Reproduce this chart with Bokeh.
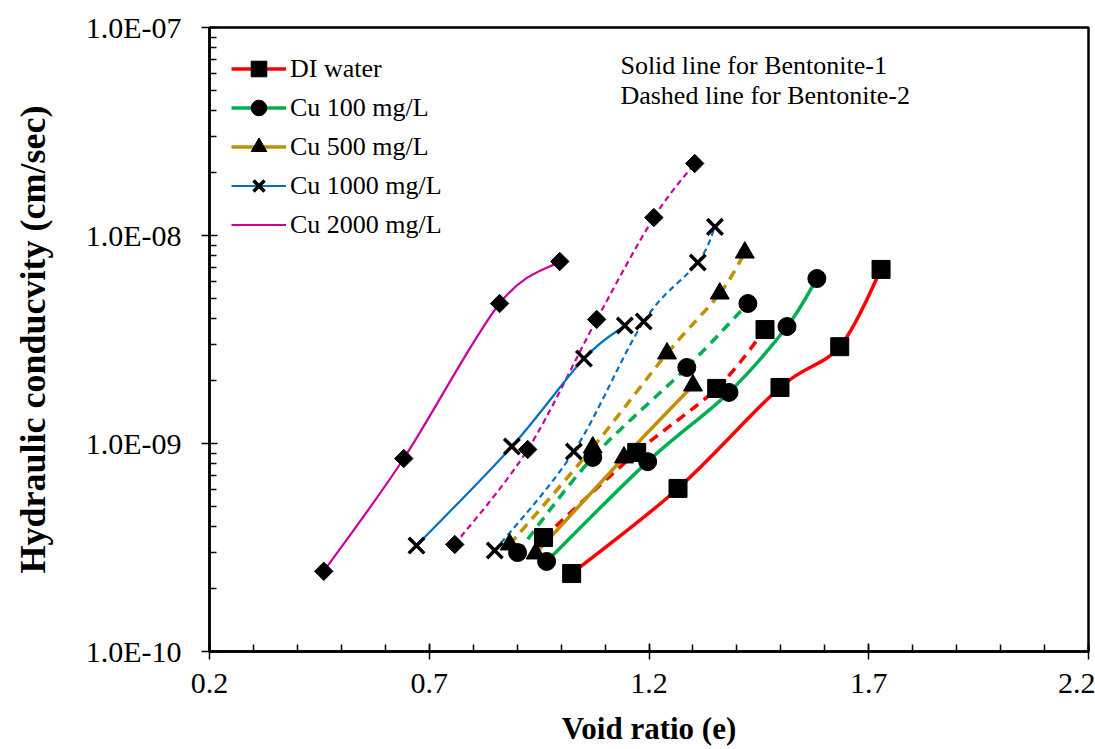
import numpy as np
from bokeh.plotting import figure
from bokeh.models import (ColumnDataSource, FixedTicker, CustomJSTickFormatter, Legend,
                          LegendItem, Label, Range1d, CDSView, IndexFilter)
from bokeh.embed import file_html
from bokeh.resources import INLINE

# ---------------- data (void ratio e, hydraulic conductivity k in cm/sec) ----------------
series_names = ["DI water", "Cu 100 mg/L", "Cu 500 mg/L", "Cu 1000 mg/L", "Cu 2000 mg/L"]

# Bentonite-1 (solid lines)
di_b1_e = [1.024, 1.266, 1.498, 1.634, 1.728]
di_b1_k = [2.37e-10, 6.08e-10, 1.86e-9, 2.92e-9, 6.87e-9]
cu100_b1_e = [0.967, 1.197, 1.382, 1.514, 1.582]
cu100_b1_k = [2.71e-10, 8.18e-10, 1.76e-9, 3.65e-9, 6.21e-9]
cu500_b1_e = [0.942, 1.143, 1.300]
cu500_b1_k = [2.96e-10, 8.57e-10, 1.90e-9]
cu1000_b1_e = [0.671, 0.888, 1.052, 1.145]
cu1000_b1_k = [3.23e-10, 9.68e-10, 2.56e-9, 3.69e-9]
cu2000_b1_e = [0.460, 0.642, 0.860, 0.997]
cu2000_b1_k = [2.43e-10, 8.47e-10, 4.71e-9, 7.50e-9]

# Bentonite-2 (dashed lines)
di_b2_e = [0.960, 1.172, 1.354, 1.464]
di_b2_k = [3.53e-10, 9.06e-10, 1.84e-9, 3.53e-9]
cu100_b2_e = [0.901, 1.072, 1.286, 1.425]
cu100_b2_k = [2.99e-10, 8.57e-10, 2.32e-9, 4.71e-9]
cu500_b2_e = [0.883, 1.072, 1.241, 1.361, 1.418]
cu500_b2_k = [3.27e-10, 9.57e-10, 2.71e-9, 5.26e-9, 8.28e-9]
cu1000_b2_e = [0.849, 1.029, 1.188, 1.311, 1.350]
cu1000_b2_k = [3.06e-10, 9.16e-10, 3.86e-9, 7.41e-9, 1.10e-8]
cu2000_b2_e = [0.758, 0.924, 1.081, 1.211, 1.304]
cu2000_b2_k = [3.27e-10, 9.36e-10, 3.95e-9, 1.22e-8, 2.22e-8]

x_major_ticks = [0.2, 0.7, 1.2, 1.7, 2.2]
y_major_ticks = [1e-10, 1e-9, 1e-8, 1e-7]
x_title = "Void ratio (e)"
y_title = "Hydraulic conducvity (cm/sec)"
note_lines = ["Solid line for Bentonite-1", "Dashed line for Bentonite-2"]

# ---------------- styles ----------------
colors = ["#FF0000", "#00B050", "#BF9000", "#0070C0", "#CC0099"]
widths = [3.5, 3.5, 3.5, 2.2, 2.2]
dashes = ["10 7", "10 7", "10 7", "6 4", "6 4"]
markers = ["square", "circle", "triangle", "x", "square"]
angles = [0, 0, 0, 0, np.pi / 4]
sizes = [18, 18, 19, 22, 13]
marker_lw = [1, 1, 1, 3.5, 1]

b1 = [(di_b1_e, di_b1_k), (cu100_b1_e, cu100_b1_k), (cu500_b1_e, cu500_b1_k),
      (cu1000_b1_e, cu1000_b1_k), (cu2000_b1_e, cu2000_b1_k)]
b2 = [(di_b2_e, di_b2_k), (cu100_b2_e, cu100_b2_k), (cu500_b2_e, cu500_b2_k),
      (cu1000_b2_e, cu1000_b2_k), (cu2000_b2_e, cu2000_b2_k)]

FONT = "Liberation Serif"


def smooth_segments(xs, ys, t=1.0 / 6.0):
    """Cubic Bezier segments through the data points (Excel-like smoothing),
    control points computed in (x, log10 y) space."""
    x = np.asarray(xs, dtype=float)
    ly = np.log10(np.asarray(ys, dtype=float))
    px = np.concatenate([[x[0]], x, [x[-1]]])
    py = np.concatenate([[ly[0]], ly, [ly[-1]]])
    x0, y0 = px[1:-2], py[1:-2]
    x1, y1 = px[2:-1], py[2:-1]
    cx0 = x0 + (px[2:-1] - px[0:-3]) * t
    cy0 = y0 + (py[2:-1] - py[0:-3]) * t
    cx1 = x1 - (px[3:] - px[1:-2]) * t
    cy1 = y1 - (py[3:] - py[1:-2]) * t
    return ColumnDataSource(dict(x0=x0, y0=10 ** y0, x1=x1, y1=10 ** y1,
                                 cx0=cx0, cy0=10 ** cy0, cx1=cx1, cy1=10 ** cy1))


p = figure(width=1095, height=749, x_range=Range1d(0.2, 2.2), y_range=Range1d(1e-10, 1e-7),
           y_axis_type="log", output_backend="svg", toolbar_location=None,
           min_border_left=209, min_border_right=7, min_border_top=27, min_border_bottom=98)
p.grid.visible = False
p.outline_line_color = "black"
p.outline_line_width = 2.5
p.background_fill_color = "white"
p.border_fill_color = "white"

# dashed (Bentonite-2) curves
for i in range(5):
    ex, kx = b2[i]
    p.bezier(x0="x0", y0="y0", x1="x1", y1="y1", cx0="cx0", cy0="cy0", cx1="cx1", cy1="cy1",
             source=smooth_segments(ex, kx), line_color=colors[i], line_width=widths[i],
             line_dash=dashes[i])
# solid (Bentonite-1) curves
solid_rs = []
for i in range(5):
    ex, kx = b1[i]
    r_line = p.bezier(x0="x0", y0="y0", x1="x1", y1="y1", cx0="cx0", cy0="cy0", cx1="cx1", cy1="cy1",
                      source=smooth_segments(ex, kx), line_color=colors[i], line_width=widths[i])
    solid_rs.append(r_line)

# markers
marker_rs = []
for i in range(5):
    for (ex, kx) in (b2[i], b1[i]):
        r = p.scatter(x=ex, y=kx, marker=markers[i], size=sizes[i], angle=angles[i],
                      fill_color="black", line_color="black", line_width=marker_lw[i])
    marker_rs.append(r)

# legend swatch for the diamond marker (same data, all points filtered out of the plot)
ex, kx = b1[4]
diamond_legend_r = p.scatter(x=ex, y=kx, marker="diamond", fill_color="black", line_color="black",
                             view=CDSView(filter=IndexFilter(indices=[])))
marker_rs[4] = diamond_legend_r

items = [LegendItem(label=series_names[i], renderers=[solid_rs[i], marker_rs[i]])
         for i in range(5)]
legend = Legend(items=items, location="top_left", margin=12, padding=10,
                glyph_width=55, glyph_height=39, spacing=0, label_height=30,
                label_standoff=4, label_text_font=FONT, label_text_font_size="26px",
                label_text_color="black", border_line_alpha=0, background_fill_alpha=0)
p.add_layout(legend)

# axes
xa = p.xaxis[0]
xa.ticker = FixedTicker(ticks=x_major_ticks,
                        minor_ticks=[round(0.2 + 0.1 * k, 1) for k in range(21)])
ya = p.yaxis[0]
ya.ticker = FixedTicker(ticks=y_major_ticks,
                        minor_ticks=[m * 10.0 ** e for e in range(-10, -7) for m in range(2, 10)])
ya.formatter = CustomJSTickFormatter(code="""
const e = Math.round(Math.log10(tick));
const a = Math.abs(e);
return '1.0E' + (e < 0 ? '-' : '+') + (a < 10 ? '0' + a : '' + a);
""")
for ax in (xa, ya):
    ax.axis_line_color = "black"
    ax.axis_line_width = 2.5
    ax.major_tick_line_color = "black"
    ax.major_tick_line_width = 1.5
    ax.minor_tick_line_color = "black"
    ax.minor_tick_line_width = 1.5
    ax.major_tick_in = 8
    ax.major_tick_out = 8
    ax.minor_tick_in = 7
    ax.minor_tick_out = 0
    ax.major_label_text_font = FONT
    ax.major_label_text_font_size = "30px"
    ax.major_label_text_color = "black"
    ax.axis_label_text_font = FONT
    ax.axis_label_text_font_style = "bold"
    ax.axis_label_text_color = "black"

xa.axis_label = x_title
xa.axis_label_text_font_size = "31px"
xa.major_label_standoff = 14
xa.axis_label_standoff = 15
ya.axis_label = y_title
ya.axis_label_text_font_size = "36px"
ya.major_label_standoff = 20
ya.axis_label_standoff = 30

# annotation text
for txt, yy in zip(note_lines, (10 ** -7.183, 10 ** -7.327)):
    p.add_layout(Label(x=1.135, y=yy, text=txt, text_font=FONT, text_font_size="26px",
                       text_color="black", text_baseline="middle", text_align="left"))

open("out.html", "w").write(file_html(p, INLINE))
